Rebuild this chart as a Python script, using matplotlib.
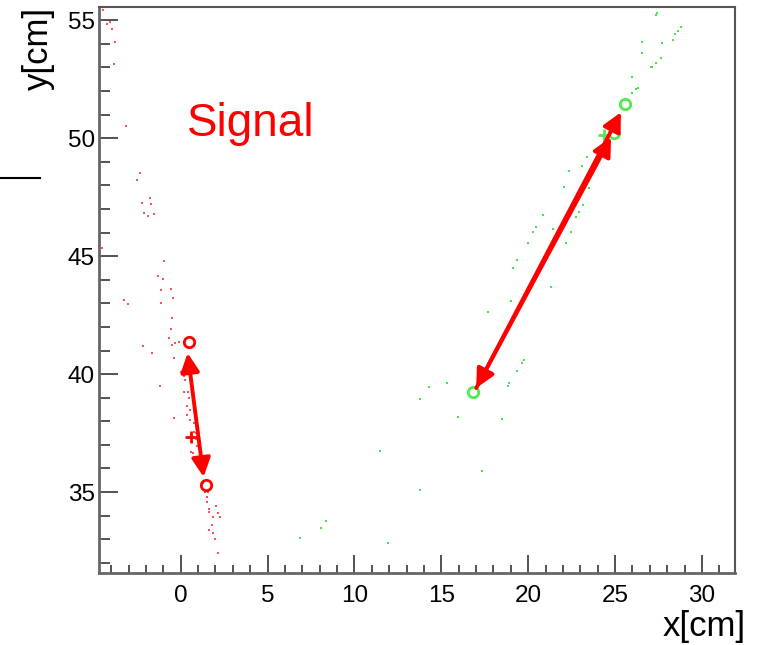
import matplotlib
matplotlib.use("Agg")
import matplotlib.pyplot as plt
from matplotlib.lines import Line2D
from matplotlib.ticker import MultipleLocator

plt.rcParams['font.family'] = ['Liberation Sans', 'DejaVu Sans']

# ---- data ----
red_hits_x = [-4.48, -4.25, -4.08, -3.97, -3.79, -3.85, -3.16, -2.36, -2.53, -1.78, -2.24, -1.72,
              -2.13, -1.55, -1.90, -4.54, -0.98, -1.32, -1.03, -0.57, -1.15, -0.46, -3.28, -3.05,
              -1.15, -0.52, -0.57, -0.69, -0.52, -0.34, -0.11, -2.18, -1.67, -0.40, -1.21, 0.00,
              0.17, 0.23, 0.17, 0.40, 0.46, 0.69, 0.34, 0.52, 0.34, 0.86, 0.52, -0.40, 0.75, 0.75,
              0.86, 0.52, 0.86, 0.63, 0.92, 0.57, 0.69, 1.09, 0.98, 1.09, 1.26, 1.38, 1.55, 1.49,
              1.49, 2.01, 1.61, 2.13, 1.61, 2.24, 1.84, 1.78, 1.61, 1.84, 1.95, 2.13]
red_hits_y = [55.42, 54.83, 54.92, 54.62, 54.07, 53.14, 50.51, 48.52, 48.22, 47.46, 47.25, 47.20,
              46.82, 46.78, 46.69, 45.34, 44.79, 44.15, 44.03, 43.60, 43.56, 43.22, 43.14, 42.97,
              43.00, 42.37, 41.90, 41.53, 41.23, 41.31, 41.36, 41.19, 40.89, 40.68, 39.49, 40.08,
              39.92, 39.75, 39.24, 39.24, 38.98, 38.98, 38.64, 38.47, 38.26, 38.18, 38.05, 38.14,
              37.92, 37.54, 37.50, 37.29, 37.25, 37.12, 36.95, 36.69, 36.65, 36.57, 36.36, 36.19,
              35.38, 35.00, 35.00, 34.79, 34.58, 34.41, 34.28, 34.11, 34.15, 33.94, 33.94, 33.60,
              33.39, 33.26, 33.00, 32.42]

green_hits_x = [27.41, 27.36, 28.79, 28.62, 28.45, 28.33, 26.55, 27.70, 26.55, 27.64, 27.36, 27.13,
                27.07, 25.98, 26.32, 26.20, 25.98, 23.39, 23.10, 22.36, 22.07, 23.51, 23.16, 22.93,
                22.76, 20.86, 20.46, 20.29, 21.44, 22.47, 20.00, 22.18, 19.37, 19.14, 21.32, 19.02,
                17.70, 19.77, 19.66, 19.37, 18.91, 18.85, 15.34, 14.31, 13.79, 15.98, 18.51, 11.49,
                17.36, 13.79, 8.39, 8.05, 6.84, 11.95]
green_hits_y = [55.30, 55.21, 54.70, 54.53, 54.41, 54.15, 54.07, 54.03, 53.60, 53.39, 53.18, 53.00,
                53.00, 52.58, 52.12, 52.08, 51.91, 49.19, 48.81, 48.60, 47.92, 47.88, 47.16, 46.86,
                46.65, 46.74, 46.23, 46.02, 46.14, 46.02, 45.55, 45.55, 44.83, 44.49, 43.69, 43.09,
                42.63, 40.59, 40.47, 40.13, 39.62, 39.49, 39.62, 39.45, 38.94, 38.18, 38.09, 36.74,
                35.89, 35.08, 33.77, 33.47, 33.05, 32.84]

red_circles_x = [0.46, 1.44]
red_circles_y = [41.36, 35.30]
red_plus_x = [0.57]
red_plus_y = [37.33]
green_circles_x = [16.84, 24.94, 25.57]
green_circles_y = [39.24, 50.21, 51.44]
green_plus_x = [24.37]
green_plus_y = [50.13]

# arrows: start / end points and style
arrows_x0 = [0.40, 17.01, 17.01]
arrows_y0 = [40.89, 39.41, 39.41]
arrows_x1 = [1.32, 24.77, 25.34]
arrows_y1 = [35.64, 50.04, 51.10]
arrows_style = ['<|-|>', '<|-|>', '-|>']

x_ticks = [0, 5, 10, 15, 20, 25, 30]
y_ticks = [35, 40, 45, 50, 55]

# ---- figure ----
fig = plt.figure(figsize=(7.61, 6.45), dpi=100)
ax = fig.add_axes([99/761, 1-573/645, (735-99)/761, (573-7)/645])
ax.set_xlim(-4.7, 31.9)
ax.set_ylim(31.57, 55.56)

RED = '#ff0000'
GREEN = '#50ea50'

ax.plot(red_hits_x, red_hits_y, 's', ms=2.0, mew=0, color='#ff5050')
ax.plot(green_hits_x, green_hits_y, 's', ms=1.8, mew=0, color='#44e844')

for x0, y0, x1, y1, st in zip(arrows_x0, arrows_y0, arrows_x1, arrows_y1, arrows_style):
    ax.annotate('', xy=(x1, y1), xytext=(x0, y0),
                arrowprops=dict(arrowstyle=st + ',head_length=0.9,head_width=0.45',
                                mutation_scale=12.5, color=RED, lw=2.8,
                                shrinkA=0, shrinkB=0), zorder=5)

ax.plot(red_circles_x, red_circles_y, 'o', ms=7.5, mfc='none', mec=RED, mew=2, zorder=6)
ax.plot(red_plus_x, red_plus_y, '+', ms=8.5, mec=RED, mew=2, zorder=6)
ax.plot(green_circles_x, green_circles_y, 'o', ms=7.5, mfc='none', mec=GREEN, mew=2, zorder=4)
ax.plot(green_plus_x, green_plus_y, '+', ms=8.5, mec=GREEN, mew=2, zorder=4)

ax.text(0.35, 50.08, 'Signal', color=RED, fontsize=33, ha='left', va='baseline')

ax.set_xticks(x_ticks)
ax.set_yticks(y_ticks)
ax.xaxis.set_minor_locator(MultipleLocator(1))
ax.yaxis.set_minor_locator(MultipleLocator(1))
ax.tick_params(axis='both', which='both', direction='in', width=1.3, color='#444444')
ax.tick_params(axis='x', which='major', length=13, labelsize=17.5, pad=9)
ax.tick_params(axis='x', which='minor', length=6)
ax.tick_params(axis='y', which='major', length=14, labelsize=17.5, pad=3)
ax.tick_params(axis='y', which='minor', length=8)
for side in ['left', 'bottom']:
    ax.spines[side].set_linewidth(2.0)
    ax.spines[side].set_color('#666666')
for side in ['top', 'right']:
    ax.spines[side].set_linewidth(1.5)
    ax.spines[side].set_color('#555555')

fig.text(38/761, 1-7/645, 'y[cm]', rotation=90, fontsize=25, ha='center', va='top')
fig.text(746/761, 1-636/645, 'x[cm]', fontsize=25, ha='right', va='baseline')

fig.add_artist(Line2D([0, 40/761], [1-178/645, 1-178/645], color='black', lw=1.5))

fig.savefig('out.png', dpi=100)
